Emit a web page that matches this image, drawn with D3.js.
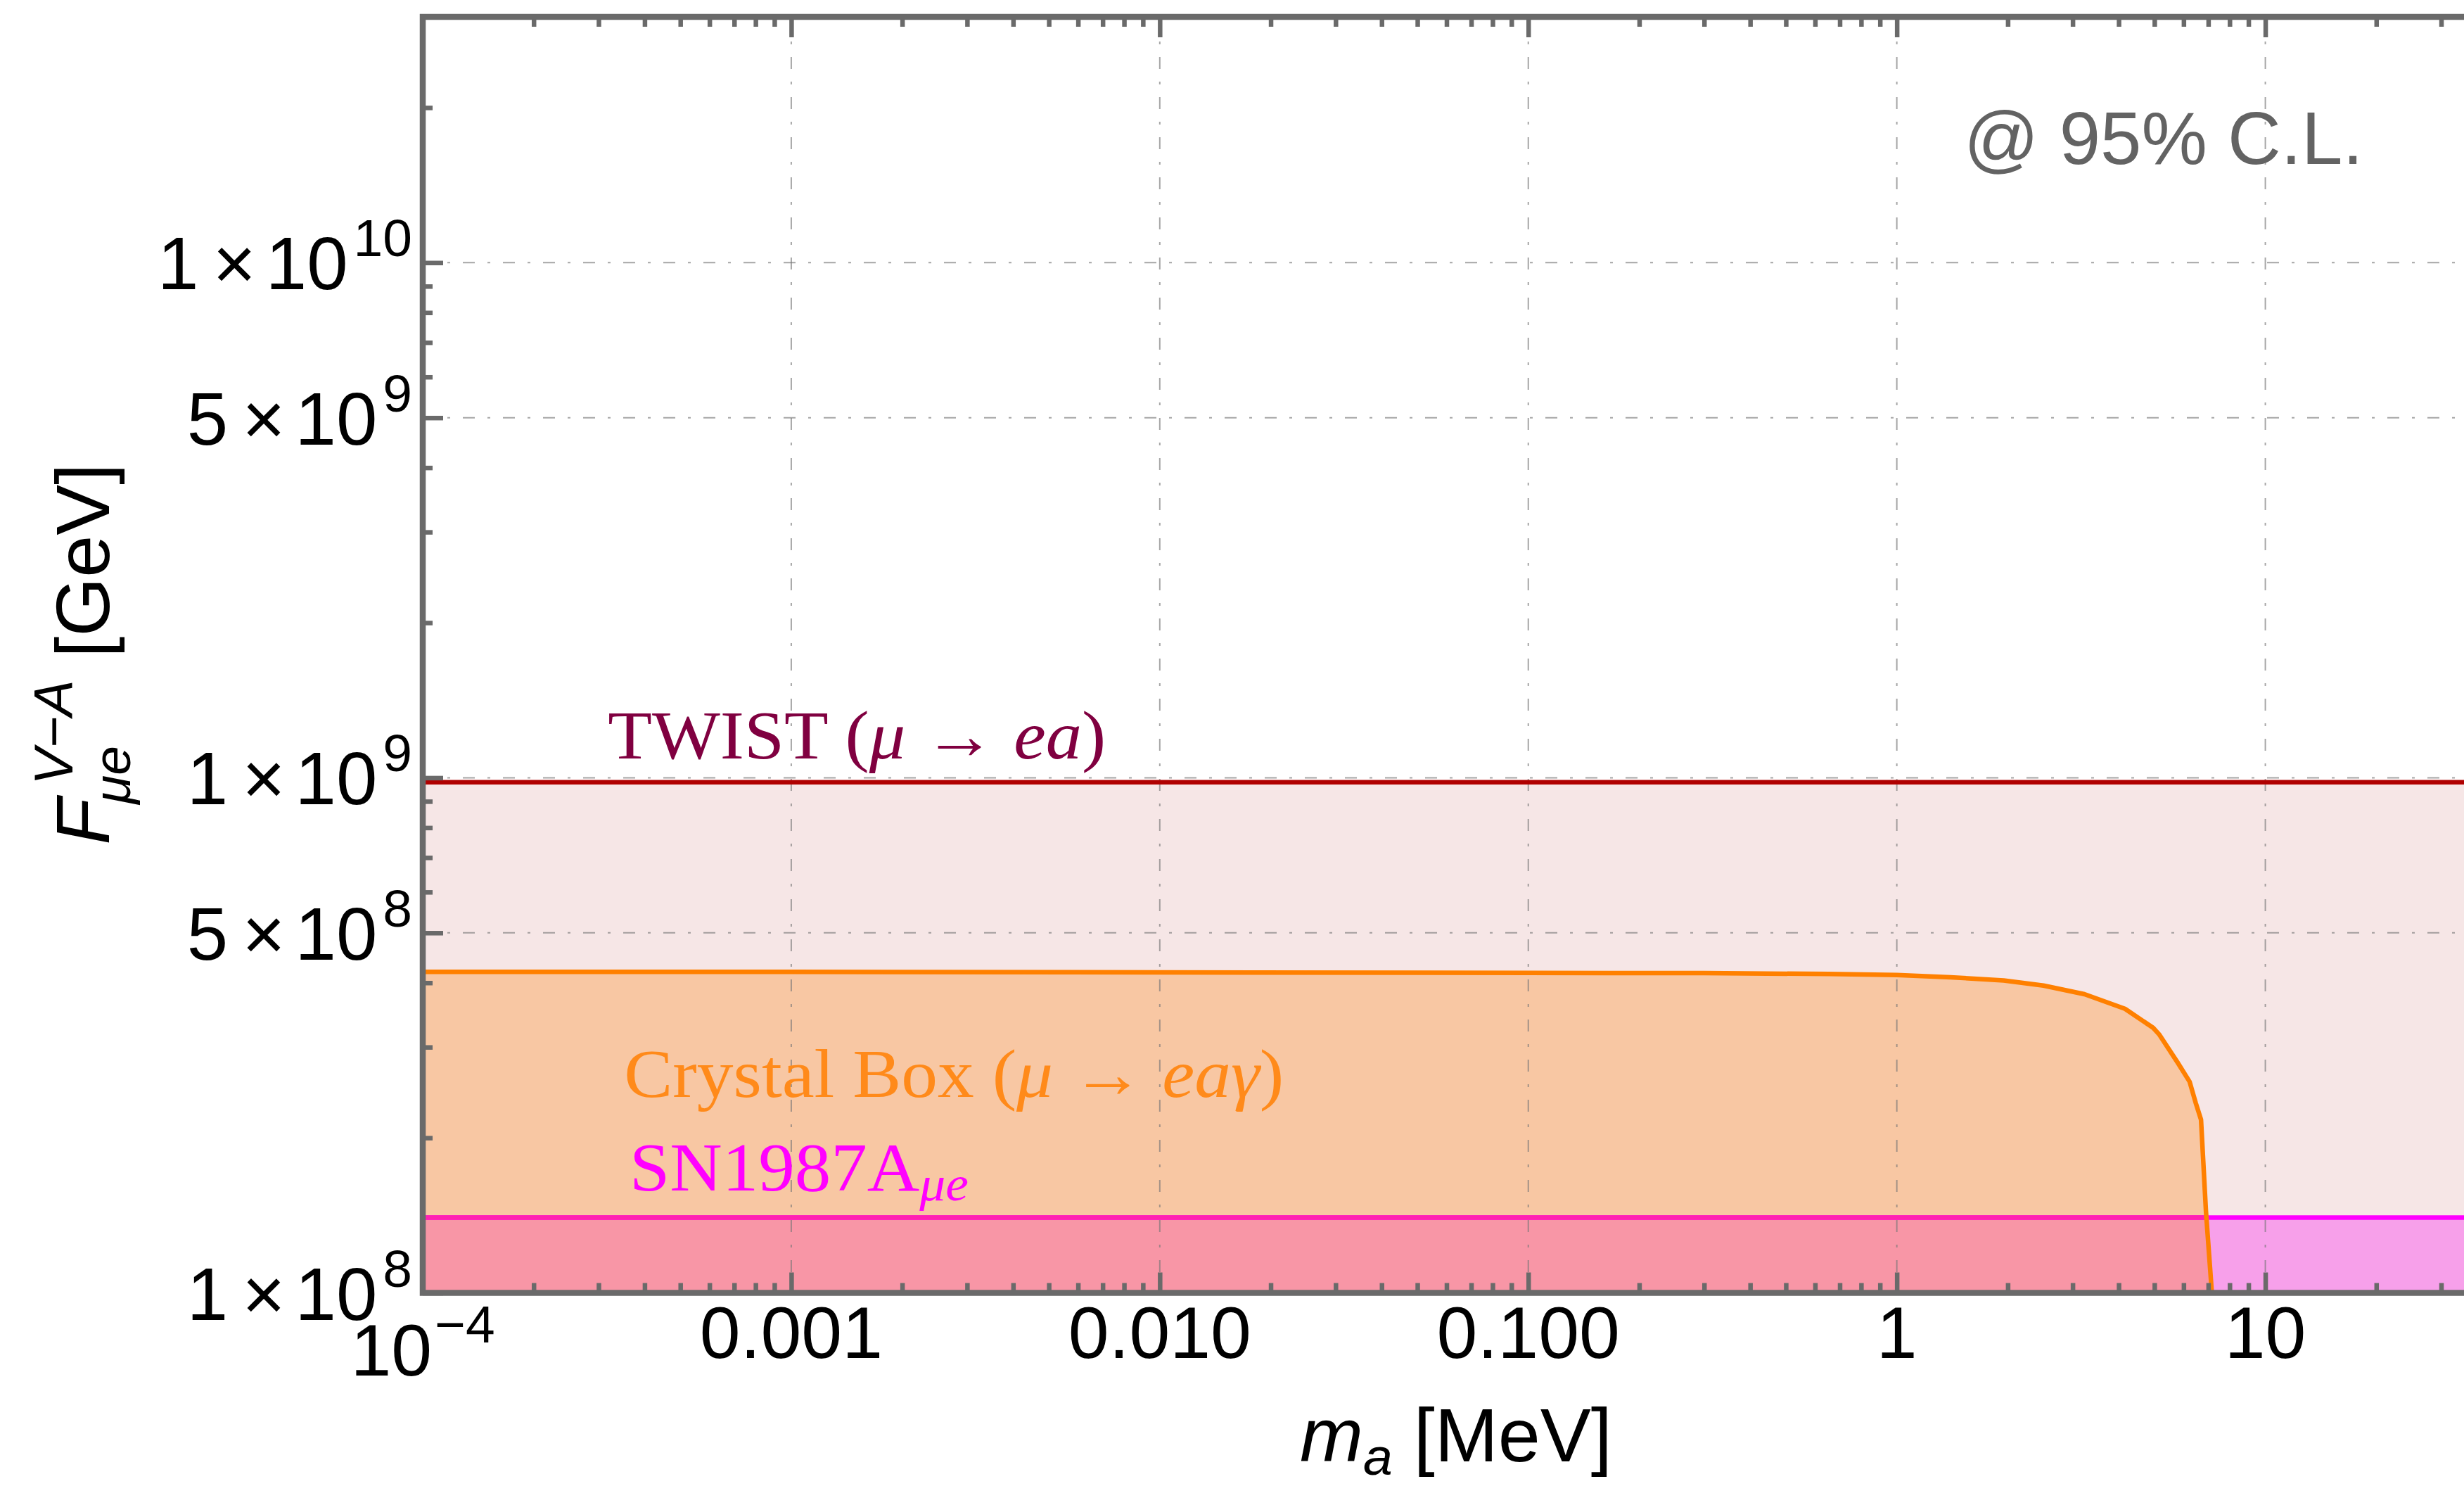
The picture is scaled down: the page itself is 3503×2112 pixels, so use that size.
<!DOCTYPE html>
<html>
<head>
<meta charset="utf-8">
<script src="https://cdn.jsdelivr.net/npm/d3@7"></script>
<style>
	body { margin: 0; background: #fff; }
	svg { display: block; }
</style>
</head>
<body>
<script>
/* axion LFV bounds:
	x-axis: axion mass m_a [MeV], log
	y-axis: F_mue^(V-A) [GeV], log
	bands: TWIST, Crystal Box, SN1987A */

// axis ranges
var xDomain = [1e-4, 40];
var yDomain = [1e8, 3e10];

// flat bounds
var twistF = 9.8e8;
var snF = 1.4e8;

// Crystal Box curve
var crystalMass = [1e-4, 1e-3, 0.01, 0.1, 0.3, 0.655, 1.0, 1.40, 1.95, 2.50, 3.23, 4.16, 4.96, 5.16, 5.78, 6.23, 6.47, 6.69, 6.90, 7.16];
var crystalF = [4.20e8, 4.20e8, 4.19e8, 4.18e8, 4.175e8, 4.16e8, 4.14e8, 4.10e8, 4.04e8, 3.95e8, 3.80e8, 3.56e8, 3.27e8, 3.17e8, 2.80e8, 2.57e8, 2.34e8, 2.17e8, 1.44e8, 1.0e8];

// tick labels
var xLabelValues = [1e-4, 0.001, 0.01, 0.1, 1, 10];
var xLabelText = ["10", "0.001", "0.010", "0.100", "1", "10"];
var xLabelExp = ["\u22124", "", "", "", "", ""];
var yLabelValues = [1e8, 5e8, 1e9, 5e9, 1e10];
var yLabelMant = ["1", "5", "1", "5", "1"];
var yLabelExp = ["8", "8", "9", "9", "10"];

// grid lines
var xGrid = [0.001, 0.01, 0.1, 1, 10];
var yGrid = [5e8, 1e9, 5e9, 1e10];

function draw() {

	var width = 3503;
	var height = 2112;
	var left = 601, right = 3536, top = 24, bottom = 1837.5;
	var frameColor = "#6a6a6a";

	var x = d3.scaleLog().domain(xDomain).range([left, right]);
	var y = d3.scaleLog().domain(yDomain).range([bottom, top]);

	var svg = d3.select("body")
		.append("svg")
			.attr("width", width)
			.attr("height", height)
			.style("font-family", "'Liberation Sans', Arial, Helvetica, sans-serif");

	var crystal = crystalMass.map((m, i) => ({ m: m, f: crystalF[i] }));

	var crystalArea = d3.area()
		.x(d => x(d.m))
		.y0(y(yDomain[0]))
		.y1(d => y(d.f));

	var crystalLine = d3.line()
		.x(d => x(d.m))
		.y(d => y(d.f));

	var bandArea = function(f) {
		return d3.area()
			.x(d => x(d))
			.y0(y(yDomain[0]))
			.y1(y(f))(xDomain);
	};

	var defs = svg.append("defs");
	defs.append("clipPath").attr("id", "plot")
		.append("rect")
			.attr("x", left).attr("y", top)
			.attr("width", right - left).attr("height", bottom - top);
	defs.append("clipPath").attr("id", "crystalClip")
		.append("path")
			.attr("d", crystalArea(crystal));

	var plot = svg.append("g").attr("clip-path", "url(#plot)");

	// filled regions
	plot.append("path").attr("d", bandArea(twistF)).attr("fill", "#f6e6e6");
	plot.append("path").attr("d", crystalArea(crystal)).attr("fill", "#f8c7a3");
	plot.append("path").attr("d", bandArea(snF)).attr("fill", "#f7a0ea");
	plot.append("path").attr("d", bandArea(snF)).attr("fill", "#f896a6")
		.attr("clip-path", "url(#crystalClip)");

	// grid
	plot.selectAll(".vgrid")
		.data(xGrid)
		.enter()
		.append("line")
			.attr("x1", d => x(d)).attr("x2", d => x(d))
			.attr("y1", top).attr("y2", bottom)
			.attr("stroke", "#777").attr("stroke-opacity", 0.65)
			.attr("stroke-width", 2)
			.attr("stroke-dasharray", "17 18 4 18");
	plot.selectAll(".hgrid")
		.data(yGrid)
		.enter()
		.append("line")
			.attr("x1", left).attr("x2", right)
			.attr("y1", d => y(d)).attr("y2", d => y(d))
			.attr("stroke", "#777").attr("stroke-opacity", 0.65)
			.attr("stroke-width", 2)
			.attr("stroke-dasharray", "17 18 4 18");

	// bound lines
	var flatLine = function(f) {
		return d3.line().x(d => x(d)).y(y(f))(xDomain);
	};
	plot.append("path").attr("d", flatLine(twistF))
		.attr("fill", "none").attr("stroke", "#b00000").attr("stroke-width", 6.5);
	plot.append("path").attr("d", flatLine(snF))
		.attr("fill", "none").attr("stroke", "#ff00ff").attr("stroke-width", 6.7);
	plot.append("path").attr("d", flatLine(snF))
		.attr("fill", "none").attr("stroke", "#ff22b0").attr("stroke-width", 6.7)
		.attr("clip-path", "url(#crystalClip)");
	plot.append("path")
		.attr("d", crystalLine(crystal))
		.attr("fill", "none").attr("stroke", "#ff8000").attr("stroke-width", 6.5)
		.attr("stroke-linejoin", "round");

	// ticks (inward, all sides)
	var isMajorX = d => Math.abs(Math.log10(d) - Math.round(Math.log10(d))) < 1e-9;
	var xMajor = x.ticks().filter(isMajorX);
	var xMinor = x.ticks().filter(d => !isMajorX(d));
	var yMajor = yLabelValues;
	var yMinor = y.ticks().filter(d => yMajor.every(v => Math.abs(v - d) / v > 1e-6));

	function ticks(axisFn, pos, vals, size) {
		var g = svg.append("g")
			.attr("transform", pos)
			.attr("color", frameColor)
			.call(axisFn.tickValues(vals).tickSize(size).tickFormat(""));
		g.select(".domain").remove();
		g.selectAll("line").attr("stroke-width", 6.5);
	}
	ticks(d3.axisBottom(x), "translate(0," + bottom + ")", xMajor, -29);
	ticks(d3.axisBottom(x), "translate(0," + bottom + ")", xMinor, -14);
	ticks(d3.axisTop(x), "translate(0," + top + ")", xMajor, -29);
	ticks(d3.axisTop(x), "translate(0," + top + ")", xMinor, -14);
	ticks(d3.axisLeft(y), "translate(" + left + ",0)", yMajor, -29);
	ticks(d3.axisLeft(y), "translate(" + left + ",0)", yMinor, -14);
	ticks(d3.axisRight(y), "translate(" + right + ",0)", yMajor, -29);
	ticks(d3.axisRight(y), "translate(" + right + ",0)", yMinor, -14);

	// frame
	svg.append("rect")
		.attr("x", left).attr("y", top)
		.attr("width", right - left).attr("height", bottom - top)
		.attr("fill", "none")
		.attr("stroke", frameColor)
		.attr("stroke-width", 8.5);

	// x tick labels
	xLabelValues.forEach(function(v, i) {
		var t = svg.append("text")
			.attr("x", x(v))
			.attr("y", bottom + (xLabelExp[i] ? 117.5 : 92.5))
			.attr("text-anchor", "middle")
			.style("font-size", "104px")
			.attr("fill", "#000");
		t.append("tspan").text(xLabelText[i]);
		if (xLabelExp[i]) {
			t.append("tspan").attr("dx", 4).attr("dy", -47)
				.style("font-size", "75px").text(xLabelExp[i]);
		}
	});

	// y tick labels
	yLabelValues.forEach(function(v, i) {
		var t = svg.append("text")
			.attr("x", left - 15)
			.attr("y", y(v) + 38)
			.attr("text-anchor", "end")
			.style("font-size", "105px")
			.attr("fill", "#000");
		t.append("tspan").text(yLabelMant[i]);
		t.append("tspan").attr("dx", 20).text("\u00d7");
		t.append("tspan").attr("dx", 14).text("10");
		t.append("tspan").attr("dx", 8).attr("dy", -47)
			.style("font-size", "75px").text(yLabelExp[i]);
	});

	// x axis title
	var xt = svg.append("text")
		.attr("x", 2070)
		.attr("y", 2077)
		.attr("text-anchor", "middle")
		.style("font-size", "108px");
	xt.append("tspan").style("font-style", "italic").text("m");
	xt.append("tspan").style("font-style", "italic").style("font-size", "75px")
		.attr("dy", 19).text("a");
	xt.append("tspan").attr("dy", -19).text(" [MeV]");

	// y axis title, rotated
	var yt = svg.append("g")
		.attr("transform", "translate(155," + (top + bottom) / 2 + ") rotate(-90)");
	yt.append("text").attr("x", -270).attr("y", 0)
		.style("font-style", "italic").style("font-size", "108px").text("F");
	yt.append("text").attr("x", -185).attr("y", -52)
		.style("font-style", "italic").style("font-size", "78px").text("V\u2212A");
	yt.append("text").attr("x", -212).attr("y", 30)
		.style("font-style", "italic").style("font-size", "75px").text("\u03bce");
	yt.append("text").attr("x", -4).attr("y", 0)
		.style("font-size", "108px").text("[GeV]");

	// confidence level note
	svg.append("text")
		.attr("x", x(1.52))
		.attr("y", y(1.555e10))
		.attr("fill", "#636363")
		.style("font-size", "105px")
		.text("@ 95% C.L.");

	// in-plot labels (serif, math italic parts)
	function mathLabel(parts, mx, fy, color, size, len) {
		var t = svg.append("text")
			.attr("x", x(mx))
			.attr("y", y(fy))
			.attr("fill", color)
			.attr("textLength", len)
			.attr("lengthAdjust", "spacingAndGlyphs")
			.style("font-family", "'Liberation Serif', 'DejaVu Serif', serif")
			.style("font-size", size + "px");
		parts.forEach(function(p) {
			var s = t.append("tspan").text(p[0]);
			if (p[1]) s.style("font-style", "italic");
			if (p[2]) s.style("font-size", p[2] + "px");
			if (p[3]) s.attr("dy", p[3]);
		});
	}

	mathLabel([["TWIST (", false], ["\u03bc", true], [" \u2192 ", false], ["ea", true], [")", false]],
		3.18e-4, 1.09e9, "#800040", 97, 708);
	mathLabel([["Crystal Box (", false], ["\u03bc", true], [" \u2192 ", false], ["ea\u03b3", true], [")", false]],
		3.52e-4, 2.40e8, "#ff8a1a", 98, 938);
	mathLabel([["SN1987A", false], ["\u03bce", true, 70, 14]],
		3.64e-4, 1.58e8, "#ff00ff", 98, 482);
}

draw();
</script>
</body>
</html>
